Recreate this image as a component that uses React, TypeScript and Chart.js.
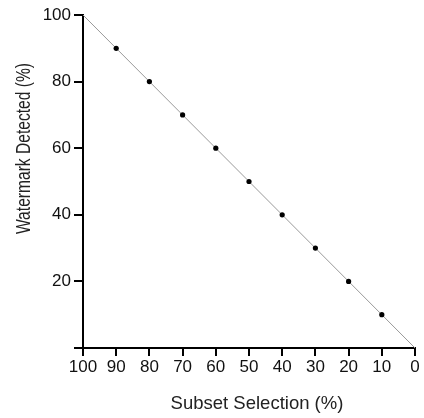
import React, { useEffect, useRef } from "react";
import { Chart, registerables } from "chart.js";

Chart.register(...registerables);

const lineX = [100, 0];
const lineY = [100, 0];
const subsetSelection = [90, 80, 70, 60, 50, 40, 30, 20, 10];
const watermarkDetected = [90, 80, 70, 60, 50, 40, 30, 20, 10];
const xTitle = "Subset Selection (%)";
const yTitle = "Watermark Detected (%)";

const FAMILY = "'Liberation Sans', Arial, sans-serif";

const titlesPlugin = {
  id: "titles",
  afterDraw(chart: any) {
    const { ctx, chartArea } = chart;
    ctx.save();
    ctx.fillStyle = "#222";
    ctx.font = `18.5px ${FAMILY}`;
    ctx.textAlign = "center";
    ctx.textBaseline = "middle";
    ctx.fillText(xTitle, (chartArea.left + chartArea.right) / 2 + 8, 404);
    ctx.font = `19.5px ${FAMILY}`;
    ctx.translate(25, (chartArea.top + chartArea.bottom) / 2 - 33);
    ctx.rotate(-Math.PI / 2);
    ctx.scale(0.8, 1);
    ctx.fillText(yTitle, 0, 0);
    ctx.restore();
  },
};

export default function App() {
  const ref = useRef<HTMLCanvasElement>(null);
  useEffect(() => {
    document.body.style.margin = "0";
    const font = { family: FAMILY, size: 17 };
    const chart = new Chart(ref.current!, {
      type: "scatter",
      data: {
        datasets: [
          {
            data: watermarkDetected.map((y, i) => ({ x: subsetSelection[i], y })),
            showLine: false,
            pointRadius: 2.6,
            pointBackgroundColor: "#000",
            pointBorderColor: "#000",
            pointBorderWidth: 0,
          },
          {
            data: lineY.map((y, i) => ({ x: lineX[i], y })),
            showLine: true,
            borderColor: "#999",
            borderWidth: 1,
            pointRadius: 0,
          },
        ],
      },
      options: {
        animation: false,
        responsive: false,
        layout: { padding: { top: 15, right: 9, left: 0, bottom: 0 } },
        plugins: { legend: { display: false }, tooltip: { enabled: false } },
        scales: {
          x: {
            type: "linear",
            reverse: true,
            min: 0,
            max: 100,
            ticks: { stepSize: 10, color: "#111", font, padding: 1, maxRotation: 0, minRotation: 0, autoSkip: false },
            grid: { drawOnChartArea: false, drawTicks: true, tickLength: 8, color: "#000", lineWidth: 2 },
            border: { display: true, color: "#000", width: 2 },
            afterFit: (s: any) => { s.height = 70; },
          },
          y: {
            min: 0,
            max: 100,
            ticks: { stepSize: 20, color: "#111", font, padding: 3, callback: (v: any) => (v === 0 ? "" : String(v)) },
            grid: { drawOnChartArea: false, drawTicks: true, tickLength: 9, color: "#000", lineWidth: 2 },
            border: { display: true, color: "#000", width: 2 },
            afterFit: (s: any) => { s.width = 83; },
          },
        },
      },
      plugins: [titlesPlugin],
    });
    return () => chart.destroy();
  }, []);
  return (
    <div style={{ width: 424, height: 418 }}>
      <canvas ref={ref} width={424} height={418} />
    </div>
  );
}
